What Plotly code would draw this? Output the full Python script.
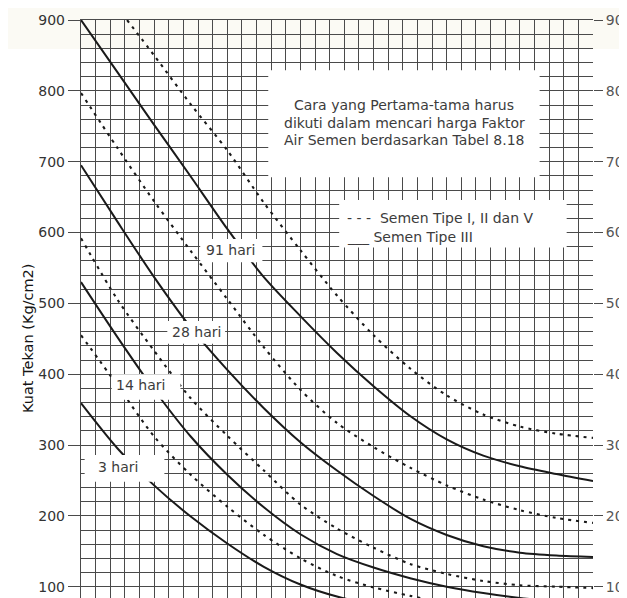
import plotly.graph_objects as go

# ---- data (water-cement ratio on x, compressive strength kg/cm2 on y) ----
d1_x = [0.363, 0.40, 0.45, 0.50, 0.55, 0.60, 0.65, 0.70, 0.75, 0.80, 0.85, 0.90, 0.95, 1.0]
d1_y = [900, 850, 781, 716, 642, 575, 511, 455, 408, 370, 343, 326, 316, 310]

s1_x = [0.30, 0.35, 0.40, 0.45, 0.50, 0.55, 0.60, 0.65, 0.70, 0.75, 0.80, 0.85, 0.90, 0.95, 1.0]
s1_y = [900, 826, 752, 679, 605, 537, 482, 430, 383, 341, 308, 285, 270, 259, 249]

d2_x = [0.30, 0.35, 0.40, 0.45, 0.50, 0.55, 0.60, 0.65, 0.70, 0.75, 0.80, 0.85, 0.90, 0.95, 1.0]
d2_y = [797, 719, 644, 574, 506, 438, 378, 331, 297, 268, 243, 223, 208, 197, 190]

s2_x = [0.30, 0.35, 0.40, 0.45, 0.50, 0.55, 0.60, 0.65, 0.70, 0.75, 0.80, 0.85, 0.90, 0.95, 1.0]
s2_y = [695, 615, 537, 466, 406, 352, 304, 264, 228, 196, 173, 157, 148, 144, 142]

d3_x = [0.30, 0.35, 0.40, 0.45, 0.50, 0.55, 0.60, 0.65, 0.70, 0.75, 0.80, 0.85, 0.90, 0.95, 1.0]
d3_y = [592, 505, 433, 366, 313, 264, 216, 182, 155, 132, 118, 108, 102, 100, 98]

s3_x = [0.30, 0.35, 0.40, 0.45, 0.50, 0.55, 0.60, 0.65, 0.70, 0.75, 0.80, 0.85, 0.90, 0.95, 1.0]
s3_y = [530, 452, 378, 312, 258, 212, 174, 146, 127, 112, 100, 91, 84, 79, 74]

d4_x = [0.30, 0.35, 0.40, 0.45, 0.50, 0.55, 0.60, 0.65, 0.70, 0.75, 0.80, 0.85]
d4_y = [455, 384, 312, 258, 213, 173, 140, 115, 99, 87, 77, 70]

s4_x = [0.30, 0.35, 0.40, 0.45, 0.50, 0.55, 0.60, 0.65, 0.70, 0.75]
s4_y = [359, 295, 243, 199, 161, 128, 103, 86, 75, 67]

left_ticks = [100, 200, 300, 400, 500, 600, 700, 800, 900]
right_ticks = [10, 20, 30, 40, 50, 60, 70, 80, 90]
right_labels = ["10", "20", "30", "40", "50", "60", "70", "80", "90"]

age_labels = ["91 hari", "28 hari", "14 hari", "3 hari"]
legend_lines = ["- - -  Semen Tipe I, II dan V", "___ Semen Tipe III"]
note_lines = ["Cara yang Pertama-tama harus",
              "dikuti dalam mencari harga Faktor",
              "Air Semen berdasarkan Tabel 8.18"]
y_title = "Kuat Tekan (Kg/cm2)"

FONT = "DejaVu Sans"
INK = "#1a1a1a"
GRID = "#4a4a4a"
TXT = "#3c3c3c"

fig = go.Figure()

def curve(xs, ys, dotted):
    fig.add_trace(go.Scatter(
        x=xs, y=ys, mode="lines", showlegend=False, hoverinfo="skip",
        line=dict(color=INK, width=2.1 if dotted else 2.0,
                  dash="3px,5px" if dotted else "solid",
                  shape="spline", smoothing=0.8)))

curve(d1_x, d1_y, True)
curve(s1_x, s1_y, False)
curve(d2_x, d2_y, True)
curve(s2_x, s2_y, False)
curve(d3_x, d3_y, True)
curve(s3_x, s3_y, False)
curve(d4_x, d4_y, True)
curve(s4_x, s4_y, False)

# invisible trace to carry the right axis
fig.add_trace(go.Scatter(x=[0.3], y=[50], yaxis="y2", mode="markers",
                         marker=dict(opacity=0), showlegend=False, hoverinfo="skip"))

# white boxes (cover grid and curves)
boxes = [
    (0.556, 0.927, 678, 829),   # note
    (0.653, 0.964, 579, 646),   # legend
    (0.463, 0.548, 558, 591),   # 91
    (0.418, 0.497, 443, 475),   # 28
    (0.342, 0.436, 364, 400),   # 14
    (0.305, 0.414, 248, 286),   # 3
]
shapes = []
for x0, x1, y0, y1 in boxes:
    shapes.append(dict(type="rect", xref="x", yref="y", x0=x0, x1=x1, y0=y0, y1=y1,
                       fillcolor="white", line=dict(width=0), layer="above"))
# faint watermark tint at top
shapes.append(dict(type="rect", xref="paper", yref="paper", x0=-0.2, x1=1.2, y0=0.95, y1=1.05,
                   fillcolor="rgba(238,232,205,0.22)", line=dict(width=0), layer="below"))

ann = []
for txt, y in zip(note_lines, [780, 755, 731]):
    ann.append(dict(x=0.742, y=y, xref="x", yref="y", text=txt, showarrow=False,
                    font=dict(family=FONT, size=14, color=TXT), align="center"))
for txt, y in zip(legend_lines, [620, 594]):
    ann.append(dict(x=0.661, y=y, xref="x", yref="y", text=txt, showarrow=False,
                    xanchor="left", font=dict(family=FONT, size=14, color=TXT)))
for txt, (x, y) in zip(age_labels, [(0.505, 575), (0.458, 460), (0.382, 385), (0.351, 269)]):
    ann.append(dict(x=x, y=y, xref="x", yref="y", text=txt, showarrow=False,
                    font=dict(family=FONT, size=14, color=TXT)))
ann.append(dict(x=-0.123, y=451, xref="paper", yref="y", text=y_title, showarrow=False,
                textangle=-90, font=dict(family=FONT, size=14.5, color="#151515")))

fig.update_layout(
    width=619, height=590,
    margin=dict(l=73, r=34, t=12, b=0),
    paper_bgcolor="white", plot_bgcolor="white",
    font=dict(family=FONT, color="#333"),
    shapes=shapes, annotations=ann,
    xaxis=dict(range=[0.3, 1.0], dtick=0.02, showgrid=True, gridcolor=GRID, gridwidth=1.4,
               showticklabels=False, ticks="", zeroline=False,
               showline=True, linecolor=GRID, linewidth=1.4, mirror=True),
    yaxis=dict(range=[84, 900], tickvals=left_ticks, ticks="outside", ticklen=12,
               tickcolor=GRID, tickwidth=1.4,
               showgrid=True, gridcolor=GRID, gridwidth=1.4, zeroline=False,
               minor=dict(dtick=20, tick0=0, showgrid=True, gridcolor=GRID, gridwidth=1.4),
               tickfont=dict(family=FONT, size=14, color="#333"),
               showline=True, linecolor=GRID, linewidth=1.4),
    yaxis2=dict(range=[8.4, 90], overlaying="y", side="right", tickvals=right_ticks,
                ticktext=right_labels, ticks="outside", ticklen=9, tickcolor=GRID,
                tickwidth=1.4, showgrid=False, zeroline=False,
                tickfont=dict(family=FONT, size=14, color="#555")),
)

fig.write_html("out.html")
